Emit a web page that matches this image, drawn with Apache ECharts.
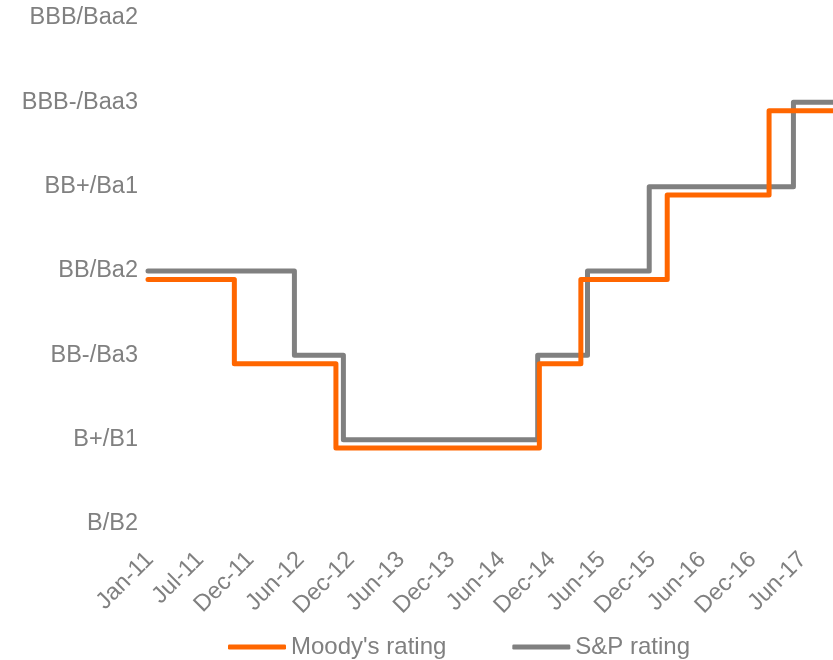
<!DOCTYPE html>
<html>
<head>
<meta charset="utf-8">
<title>Moody's vs S&amp;P rating</title>
<script src="https://cdn.jsdelivr.net/npm/echarts@6/dist/echarts.min.js"></script>
<style>
  html, body { margin: 0; padding: 0; background: #fff; }
  #chart { width: 833px; height: 660px; }
</style>
</head>
<body>
<div id="chart"></div>
<script>
// rating scale, bottom to top
var ratingLabels = ['B/B2', 'B+/B1', 'BB-/Ba3', 'BB/Ba2', 'BB+/Ba1', 'BBB-/Baa3', 'BBB/Baa2'];
var monthNames = ['Jan', 'Feb', 'Mar', 'Apr', 'May', 'Jun', 'Jul', 'Aug', 'Sep', 'Oct', 'Nov', 'Dec'];

// rating changes (index into ratingLabels), each value holds until the next date
var moodyDates = ['2011-01-01', '2011-11-09', '2012-11-10', '2014-11-15', '2015-04-14', '2016-02-20', '2017-02-22', '2017-10-31'];
var moodyRatings = [3, 2, 1, 2, 3, 4, 5, 5];
var spDates = ['2011-01-01', '2012-06-13', '2012-12-07', '2014-11-09', '2015-05-08', '2015-12-17', '2017-05-21', '2017-10-31'];
var spRatings = [3, 2, 1, 2, 3, 4, 5, 5];

// Moody's line is drawn a little lower so both lines stay visible
var moodyShift = 0.1;

var startDate = Date.UTC(2011, 0, 1);
var dayStep = 182;     // label every 26 weeks
var dayMax = 2475;

function dayIndex(s) {
  var p = s.split('-');
  return Math.round((Date.UTC(+p[0], +p[1] - 1, +p[2]) - startDate) / 864e5);
}

function dayLabel(v) {
  if (v % dayStep !== 0) return '';
  var d = new Date(startDate + v * 864e5);
  return monthNames[d.getUTCMonth()] + '-' + String(d.getUTCFullYear()).slice(2);
}

var moodyData = moodyDates.map(function (d, i) { return [dayIndex(d), moodyRatings[i] - moodyShift]; });
var spData = spDates.map(function (d, i) { return [dayIndex(d), spRatings[i]]; });

var font = "'Liberation Sans', Arial, sans-serif";
var textGrey = '#808080';

var chart = echarts.init(document.getElementById('chart'));

var option = {
  animation: false,
  textStyle: { fontFamily: font },
  grid: [
    { left: 148, right: 0, top: 18, bottom: 136 },
    // same scale, used only for the date labels
    { left: 150, width: 685, top: 18, bottom: 136 }
  ],
  legend: {
    data: ["Moody's rating", 'S&P rating'],
    left: 228,
    top: 635,
    padding: 0,
    icon: 'roundRect',
    itemWidth: 58,
    itemHeight: 5,
    itemGap: 66,
    textStyle: { fontSize: 24, color: textGrey, fontFamily: font }
  },
  xAxis: [
    {
      type: 'value',
      gridIndex: 0,
      min: 0,
      max: dayMax,
      interval: dayStep,
      axisLine: { show: false },
      axisTick: { show: false },
      splitLine: { show: false },
      axisLabel: { show: false }
    },
    {
      type: 'value',
      gridIndex: 1,
      min: 0,
      max: dayMax,
      interval: dayStep,
      axisLine: { show: false },
      axisTick: { show: false },
      splitLine: { show: false },
      axisLabel: {
        rotate: 45,
        margin: 32,
        fontSize: 23.5,
        color: textGrey,
        fontFamily: font,
        showMaxLabel: false,
        formatter: dayLabel
      }
    }
  ],
  yAxis: [
    {
      type: 'value',
      gridIndex: 0,
      min: 0,
      max: 6,
      interval: 1,
      axisLine: { show: false },
      axisTick: { show: false },
      splitLine: { show: false },
      axisLabel: {
        margin: 10,
        fontSize: 23.5,
        color: textGrey,
        fontFamily: font,
        formatter: function (v) { return ratingLabels[v]; }
      }
    },
    {
      type: 'value',
      gridIndex: 1,
      min: 0,
      max: 6,
      show: false
    }
  ],
  series: [
    {
      name: 'S&P rating',
      type: 'line',
      step: 'end',
      symbol: 'none',
      color: '#808080',
      lineStyle: { width: 5, cap: 'round', join: 'round' },
      data: spData
    },
    {
      name: "Moody's rating",
      type: 'line',
      step: 'end',
      symbol: 'none',
      color: '#FF6600',
      lineStyle: { width: 5, cap: 'round', join: 'round' },
      data: moodyData
    }
  ]
};

chart.setOption(option);
</script>
</body>
</html>
